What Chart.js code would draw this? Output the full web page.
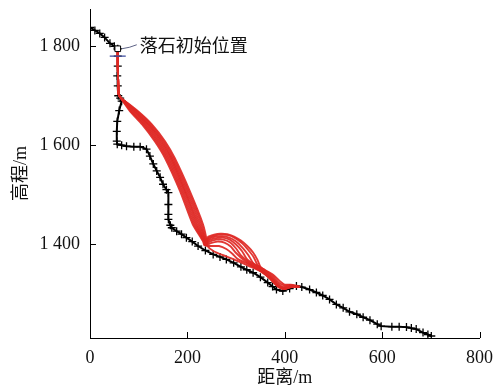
<!DOCTYPE html>
<html>
<head>
<meta charset="utf-8">
<script src="https://cdn.jsdelivr.net/npm/chart.js@4/dist/chart.umd.min.js"></script>
<style>
  body { margin: 0; background: #fff; }
  #wrap { width: 502px; height: 391px; }
</style>
</head>
<body>
<div id="wrap"><canvas id="myChart" width="502" height="391"></canvas></div>
<script>
// slope profile (distance / elevation)
const profileX = [0, 10, 20, 30, 41, 50, 57, 57, 57, 56, 57, 58, 62, 65, 60, 56, 55, 55, 56, 65, 75, 90, 103, 116, 123, 130, 137, 144, 150, 157, 161, 161, 161, 161, 165, 168, 178, 188, 198, 210, 222, 237, 253, 267, 280, 295, 310, 322, 335, 350, 365, 375, 383, 396, 410, 424, 435, 451, 465, 478, 492, 506, 520, 533, 548, 561, 575, 590, 598, 620, 635, 650, 660, 670, 684, 694, 701];
const profileY = [1838, 1832, 1826, 1818, 1806, 1800, 1795, 1780, 1760, 1740, 1720, 1700, 1695, 1689, 1670, 1648, 1628, 1608, 1602, 1600, 1598, 1597, 1597, 1592, 1578, 1562, 1548, 1535, 1521, 1510, 1504, 1480, 1460, 1450, 1438, 1433, 1426, 1420, 1413, 1405, 1396, 1387, 1379, 1374, 1369, 1362, 1354, 1348, 1342, 1333, 1322, 1314, 1308, 1305, 1310, 1315, 1313, 1308, 1302, 1296, 1288, 1278, 1271, 1263, 1258, 1252, 1246, 1238, 1234, 1233, 1233, 1232, 1230, 1228, 1221, 1217, 1214];

// rockfall start
const startPoint = [57, 1795];
const startLabel = '落石初始位置';

// trajectories: common drop, first flight, bounce, run-out
const fallPath = [[57, 1793], [57, 1760], [58, 1725], [59, 1702], [62, 1697]];
const flightY = [1669, 1642, 1608, 1574, 1507, 1440, 1406];
const flightX = [
  [82, 107, 133, 154, 185, 211, 232],
  [84, 110, 136, 157, 188, 214, 233],
  [86, 113, 139, 160, 191, 217, 234],
  [89, 116, 142, 163, 194, 220, 235],
  [91, 119, 145, 166, 196, 223, 236],
  [93, 121, 148, 168, 199, 226, 237],
  [96, 124, 151, 171, 202, 229, 238],
  [98, 127, 154, 174, 205, 232, 240]
];
const impacts = [[235, 1398], [236, 1398], [236, 1398], [237, 1398], [237, 1397], [238, 1397], [239, 1397], [240, 1397]];
const bounces = [
  [[242, 1414], [255, 1419], [268, 1421], [282, 1420], [296, 1415], [310, 1407], [323, 1396], [335, 1383], [344, 1368], [350, 1354]],
  [[243, 1412], [256, 1417], [270, 1419], [284, 1418], [298, 1412], [312, 1402], [325, 1388], [336, 1374], [344, 1358]],
  [[244, 1410], [258, 1415], [272, 1416], [286, 1413], [300, 1405], [313, 1393], [325, 1378], [335, 1362]],
  [[245, 1408], [259, 1412], [273, 1413], [287, 1409], [300, 1399], [312, 1386], [322, 1370]],
  [[246, 1405], [260, 1409], [274, 1409], [288, 1403], [300, 1391], [310, 1377]],
  [[248, 1402], [262, 1405], [276, 1403], [289, 1395], [299, 1383]],
  [[250, 1396], [265, 1396], [280, 1390], [293, 1380], [303, 1370]],
  [[255, 1385], [280, 1375], [305, 1365], [330, 1354]]
];
const tails = [
  [[362, 1346], [376, 1338], [390, 1325], [400, 1318], [412, 1318], [424, 1316], [432, 1314]],
  [[358, 1348], [374, 1336], [388, 1322], [399, 1316], [411, 1317], [423, 1315], [431, 1313]],
  [[350, 1352], [368, 1338], [384, 1322], [397, 1313], [410, 1315], [422, 1315], [430, 1313]],
  [[338, 1358], [356, 1345], [374, 1330], [390, 1314], [404, 1312], [418, 1314], [430, 1313]],
  [[328, 1362], [348, 1350], [368, 1334], [386, 1316], [400, 1310], [414, 1313], [428, 1313]],
  [[318, 1366], [340, 1352], [362, 1338], [382, 1318], [396, 1310], [410, 1313], [426, 1313]],
  [[324, 1360], [346, 1348], [366, 1334], [384, 1316], [398, 1309], [412, 1313], [425, 1313]],
  [[350, 1345], [370, 1330], [388, 1312], [400, 1309], [414, 1314], [428, 1313]]
];

const xTicks = [0, 200, 400, 600, 800];
const yTicks = [1400, 1600, 1800];
const xTitle = '距离/m';
const yTitle = '高程/m';

const numFont = "'Liberation Serif', 'Noto Sans CJK SC', serif";

const toPts = arr => arr.map(p => ({ x: p[0], y: p[1] }));

const trajSets = flightX.map((fx, i) => {
  const flight = fx.map((x, j) => [x, flightY[j]]);
  return {
    data: toPts(fallPath.concat(flight, [impacts[i]], bounces[i], tails[i])),
    borderColor: 'rgba(222, 40, 36, 0.92)',
    borderWidth: 1.9,
    pointRadius: 0,
    tension: 0.2,
    showLine: true,
    order: 1
  };
});

const profileSet = {
  data: profileX.map((x, i) => ({ x: x, y: profileY[i] })),
  borderColor: '#000',
  borderWidth: 2,
  pointStyle: 'cross',
  pointRadius: 4,
  pointBorderWidth: 1.3,
  pointBorderColor: '#000',
  showLine: true,
  tension: 0,
  order: 2
};

const startSet = {
  data: [{ x: startPoint[0], y: startPoint[1] }],
  pointStyle: 'rect',
  pointRadius: 4,
  pointBackgroundColor: '#fff',
  pointBorderColor: '#000',
  pointBorderWidth: 1,
  order: 0
};

const markSet = {
  data: [{ x: 57, y: 1780 }],
  pointStyle: 'line',
  pointRadius: 8,
  pointBorderColor: '#3b4a9c',
  pointBorderWidth: 1.2,
  order: 0
};

const extras = {
  id: 'extras',
  afterDraw(chart) {
    const ctx = chart.ctx;
    const x = chart.scales.x, y = chart.scales.y, a = chart.chartArea;
    ctx.save();
    ctx.strokeStyle = '#000';
    ctx.lineWidth = 1;
    // inward ticks
    xTicks.forEach(v => {
      const px = Math.round(x.getPixelForValue(v)) + 0.5;
      ctx.beginPath(); ctx.moveTo(px, a.bottom); ctx.lineTo(px, a.bottom - 6); ctx.stroke();
    });
    yTicks.forEach(v => {
      const py = Math.round(y.getPixelForValue(v)) + 0.5;
      ctx.beginPath(); ctx.moveTo(a.left, py); ctx.lineTo(a.left + 6, py); ctx.stroke();
    });
    // axis titles
    ctx.fillStyle = '#111';
    ctx.font = '18px ' + numFont;
    ctx.textAlign = 'center';
    ctx.textBaseline = 'middle';
    ctx.fillText(xTitle, (a.left + a.right) / 2, 378);
    ctx.save();
    ctx.translate(21, (a.top + a.bottom) / 2);
    ctx.rotate(-Math.PI / 2);
    ctx.fillText(yTitle, 0, 0);
    ctx.restore();
    // start label
    const sx = x.getPixelForValue(startPoint[0]);
    const sy = y.getPixelForValue(startPoint[1]);
    ctx.strokeStyle = '#333a66';
    ctx.lineWidth = 0.8;
    ctx.beginPath();
    ctx.moveTo(sx + 4, sy);
    ctx.quadraticCurveTo(sx + 12, sy - 1, sx + 19, sy - 4);
    ctx.stroke();
    ctx.textAlign = 'left';
    ctx.font = "18px 'Noto Sans CJK SC'";
    ctx.fillText(startLabel, sx + 22, sy - 4);
    ctx.restore();
  }
};

const ctx = document.getElementById('myChart').getContext('2d');

new Chart(ctx, {
  type: 'scatter',
  data: { datasets: [profileSet].concat(trajSets, [startSet, markSet]) },
  options: {
    responsive: false,
    animation: false,
    layout: { padding: { top: 8, right: 22, left: 0, bottom: 0 } },
    plugins: { legend: { display: false }, tooltip: { enabled: false } },
    scales: {
      x: {
        type: 'linear',
        min: 0,
        max: 800,
        afterBuildTicks: s => { s.ticks = xTicks.map(v => ({ value: v })); },
        afterFit: s => { s.height = 53; },
        grid: { display: false, drawTicks: false },
        border: { display: true, color: '#000', width: 1 },
        ticks: { color: '#111', padding: 9, maxRotation: 0, font: { family: numFont, size: 18 } }
      },
      y: {
        type: 'linear',
        min: 1210,
        max: 1875,
        afterBuildTicks: s => { s.ticks = yTicks.map(v => ({ value: v })); },
        afterFit: s => { s.width = 90; s.paddingTop = 0; s.paddingBottom = 0; },
        grid: { display: false, drawTicks: false },
        border: { display: true, color: '#000', width: 1 },
        ticks: {
          color: '#111',
          padding: 10,
          font: { family: numFont, size: 18 },
          callback: v => String(v).replace(/\B(?=(\d{3})+(?!\d))/g, ' ')
        }
      }
    }
  },
  plugins: [extras]
});
</script>
</body>
</html>
